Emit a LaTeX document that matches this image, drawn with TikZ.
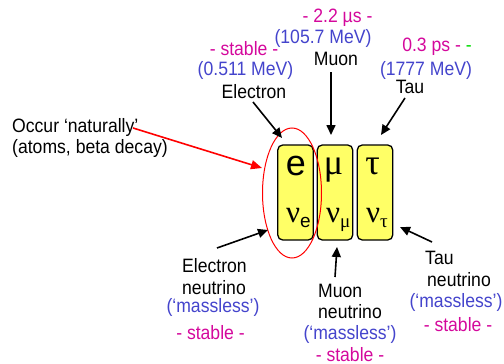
\documentclass[tikz,border=0pt]{standalone}
\usepackage{graphicx}
\usepackage{fontspec}
\setmainfont{Liberation Sans}
\newfontfamily\grk{Liberation Serif}
\usetikzlibrary{arrows.meta}
\definecolor{mag}{HTML}{D4089C}
\definecolor{blu}{HTML}{4444CC}
\definecolor{grn}{HTML}{00DD00}
\definecolor{ylw}{HTML}{FFFF66}
\definecolor{redl}{HTML}{FF0000}
\newcommand{\vst}[1]{\scalebox{1}[1.1]{#1}}
\begin{document}
\begin{tikzpicture}[x=1pt,y=-1pt,
  lbl/.style={inner sep=0pt, font=\fontsize{17.6}{21}\selectfont, anchor=base},
  lblw/.style={lbl, anchor=base west},
  box/.style={draw=black, line width=1.3pt, fill=ylw, rounded corners=5pt,
    minimum width=35.5pt, minimum height=95pt, inner sep=0pt},
  big/.style={inner sep=0pt, anchor=base},
  arr/.style={line width=1.6pt, -{Triangle[length=10pt,width=9pt]}},
  rarr/.style={draw=redl, line width=1.6pt, -{Triangle[length=11pt,width=9pt]}, color=redl}]
\useasboundingbox (0,0) rectangle (504,364);

% boxes
\node[box] (be) at (295.5,192.5) {};
\node[box] (bm) at (335,192.5) {};
\node[box] (bt) at (375,192.5) {};

% letters
\node[big, font=\fontsize{36}{36}\selectfont] (le) at (296,175) {e};
\node[big, font=\fontsize{36}{36}\grk] (lm) at (333.5,174) {μ};
\node[big, font=\fontsize{36}{36}\grk] (lt) at (372.5,174) {τ};
\node[inner sep=0pt, anchor=base west] (ne) at (286,222)
  {{\fontsize{31}{31}\grk ν}\raisebox{-5pt}{\fontsize{19}{19}\selectfont e}};
\node[inner sep=0pt, anchor=base west] (nm) at (326,222)
  {{\fontsize{31}{31}\grk ν}\raisebox{-5pt}{\fontsize{19}{19}\grk μ}};
\node[inner sep=0pt, anchor=base west] (nt) at (366,222)
  {{\fontsize{31}{31}\grk ν}\raisebox{-5pt}{\fontsize{19}{19}\grk τ}};

% red ellipse
\draw[redl, line width=1pt] (292,193) ellipse [x radius=29.5, y radius=65];

% top labels
\node[lbl, text=mag] (es) at (244,56) {\vst{- stable -}};
\node[lbl, text=blu] (em) at (245.5,75) {\vst{(0.511 MeV)}};
\node[lbl] (el) at (254,98) {\vst{Electron}};
\node[lbl, text=mag] (ms) at (337.5,23) {\vst{- 2.2 µs -}};
\node[lbl, text=blu] (mm) at (323,43) {\vst{(105.7 MeV)}};
\node[lbl] (ml) at (336,65) {\vst{Muon}};
\node[lbl, text=mag] (ts) at (437,52) {\vst{0.3 ps - \textcolor{grn}{-}}};
\node[lbl, text=blu] (tm) at (426,75) {\vst{(1777 MeV)}};
\node[lbl] (tl) at (410,93) {\vst{Tau}};

% left label
\node[lblw] (oc1) at (12,132) {\vst{Occur ‘naturally’}};
\node[lblw] (oc2) at (12,153) {\vst{(atoms, beta decay)}};

% bottom labels
\node[lblw] (en1) at (182,272) {\vst{Electron}};
\node[lblw] (en2) at (182,294) {\vst{neutrino}};
\node[lbl, text=blu] (en3) at (213,312) {\vst{(‘massless’)}};
\node[lbl, text=mag] (en4) at (210.5,339) {\vst{- stable -}};
\node[lblw] (mn1) at (318,297) {\vst{Muon}};
\node[lblw] (mn2) at (318,318) {\vst{neutrino}};
\node[lbl, text=blu] (mn3) at (350,339) {\vst{(‘massless’)}};
\node[lbl, text=mag] (mn4) at (350,361) {\vst{- stable -}};
\node[lblw] (tn1) at (425,264) {\vst{Tau}};
\node[lblw] (tn2) at (427,286) {\vst{neutrino}};
\node[lbl, text=blu] (tn3) at (456,307) {\vst{(‘massless’)}};
\node[lbl, text=mag] (tn4) at (458,331) {\vst{- stable -}};

% arrow end points
\coordinate (eT) at (253,102); \coordinate (eH) at (282,138);
\coordinate (mT) at (331,72);  \coordinate (mH) at (331,135);
\coordinate (tT) at (405,98);  \coordinate (tH) at (381,135);
\coordinate (oT) at (133,128); \coordinate (oH) at (262,168);
\coordinate (enT) at (217,248); \coordinate (enH) at (268,230);
\coordinate (mnT) at (335,277); \coordinate (mnH) at (337,247);
\coordinate (tnT) at (432,242); \coordinate (tnH) at (400,227);

\draw[arr] (eT) -- (eH);
\draw[arr] (mT) -- (mH);
\draw[arr] (tT) -- (tH);
\draw[rarr] (oT) -- (oH);
\draw[arr] (enT) -- (enH);
\draw[arr] (mnT) -- (mnH);
\draw[arr] (tnT) -- (tnH);
\end{tikzpicture}
\end{document}
